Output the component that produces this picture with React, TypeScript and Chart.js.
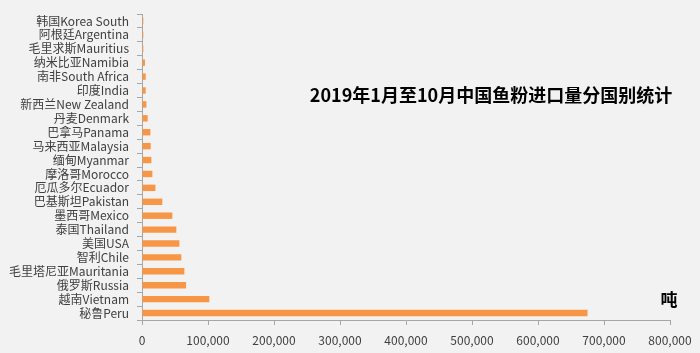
import React, { useEffect, useRef } from "react";
import { Chart, registerables } from "chart.js";

Chart.register(...registerables);

const categories: string[] = [
  "韩国Korea South",
  "阿根廷Argentina",
  "毛里求斯Mauritius",
  "纳米比亚Namibia",
  "南非South Africa",
  "印度India",
  "新西兰New Zealand",
  "丹麦Denmark",
  "巴拿马Panama",
  "马来西亚Malaysia",
  "缅甸Myanmar",
  "摩洛哥Morocco",
  "厄瓜多尔Ecuador",
  "巴基斯坦Pakistan",
  "墨西哥Mexico",
  "泰国Thailand",
  "美国USA",
  "智利Chile",
  "毛里塔尼亚Mauritania",
  "俄罗斯Russia",
  "越南Vietnam",
  "秘鲁Peru",
];

const importTons: number[] = [
  2000, 2000, 2000, 4500, 5600, 5600, 6700, 8600, 12700, 13200, 14200, 15700,
  20300, 30800, 46000, 52000, 56600, 59600, 64200, 66800, 102000, 675000,
];

const xTicks: number[] = [0, 100000, 200000, 300000, 400000, 500000, 600000, 700000, 800000];

const titleText = "2019年1月至10月中国鱼粉进口量分国别统计";
const unitText = "吨";

const FONT = "'Noto Sans CJK SC', 'Noto Sans', sans-serif";

export default function App() {
  const ref = useRef<HTMLCanvasElement | null>(null);

  useEffect(() => {
    document.body.style.margin = "0";
    const ctx = ref.current!.getContext("2d")!;
    const textPlugin = {
      id: "texts",
      afterDraw(chart: any) {
        const c = chart.ctx;
        c.save();
        c.fillStyle = "#000000";
        c.font = `bold 18px ${FONT}`;
        c.textAlign = "center";
        c.textBaseline = "middle";
        c.fillText(titleText, 491, 95);
        c.font = `bold 17px ${FONT}`;
        c.fillText(unitText, 669, 300);
        c.restore();
      },
    };
    const chart = new Chart(ctx, {
      type: "bar",
      data: {
        labels: categories,
        datasets: [
          {
            data: importTons,
            backgroundColor: "#F79646",
            barPercentage: 0.46,
            categoryPercentage: 1,
          },
        ],
      },
      options: {
        indexAxis: "y",
        animation: false,
        responsive: false,
        layout: { padding: { left: 0, right: 30, top: 12, bottom: 0 } },
        plugins: {
          legend: { display: false },
          tooltip: { enabled: false },
          title: { display: false },
        },
        scales: {
          x: {
            min: 0,
            max: 800000,
            afterBuildTicks: (scale: any) => {
              scale.ticks = xTicks.map((v) => ({ value: v }));
            },
            afterFit: (scale: any) => {
              scale.height = 33;
            },
            grid: {
              drawOnChartArea: false,
              drawTicks: true,
              tickLength: 5,
              color: "#A6A6A6",
            },
            border: { display: true, color: "#A6A6A6", width: 1 },
            ticks: {
              padding: 8,
              color: "#404040",
              font: { family: FONT, size: 12 },
              maxRotation: 0,
              autoSkip: false,
              callback: (v: any) => Number(v).toLocaleString("en-US"),
            },
          },
          y: {
            afterFit: (scale: any) => {
              scale.width = 142;
            },
            grid: {
              drawOnChartArea: false,
              drawTicks: true,
              tickLength: 5,
              color: "#A6A6A6",
              offset: true,
            },
            border: { display: true, color: "#A6A6A6", width: 1 },
            ticks: {
              autoSkip: false,
              padding: 8,
              color: "#404040",
              font: { family: FONT, size: 12, lineHeight: 1 },
            },
          },
        },
      },
      plugins: [textPlugin],
    });
    return () => chart.destroy();
  }, []);

  return (
    <div style={{ width: 700, height: 353, background: "#F2F2F2", position: "relative" }}>
      <canvas ref={ref} width={700} height={353} style={{ display: "block" }} />
    </div>
  );
}
